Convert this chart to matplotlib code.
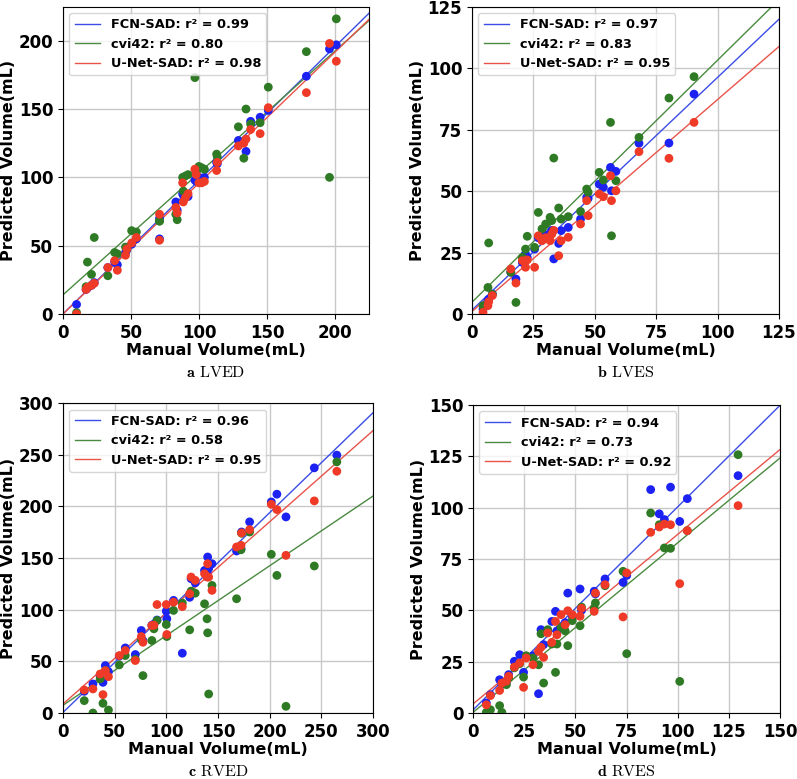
import matplotlib
matplotlib.use("Agg")
import matplotlib.pyplot as plt
import numpy as np

plt.rcParams['font.family'] = 'DejaVu Sans'
plt.rcParams['font.weight'] = 'bold'
plt.rcParams['mathtext.fontset'] = 'cm'

# ---- LVED ----
lved_x   = [10, 17, 18, 21, 23, 33, 38, 40, 46, 47, 50.5, 54, 71, 71, 83, 84, 88, 88.5, 90, 92,
            97, 98, 100, 102, 104, 113, 113.5, 129, 133, 134.6, 138, 145, 151, 179, 196, 201]
lved_fcn = [7, 18, 19, 21, 23, 34, 38, 36, 45, 47, 51, 55, 70, 55, 82, 76, 88, 87, 86, 86,
            98, 97, 100, 98, 100, 111, 110, 127, 126, 119, 141, 144, 149, 174, 194, 197]
lved_cvi = [1, 20, 38, 29, 56, 28, 45, 44, 49, 48, 61, 60, 68, 68, 73, 69, 100, 90, 101, 102,
            173, 104, 108, 107, 106, 117, 115, 137, 114, 150, 139, 140, 166, 192, 100, 216]
lved_unet = [0, 18, 19.5, 21, 22.5, 34, 39, 32, 43, 47.6, 52, 56, 73, 54, 78, 74, 96, 82, 85, 88,
             106, 102, 96, 96, 97, 105, 111, 123, 125, 128, 135, 132, 151, 162, 198, 185]

# ---- LVES ----
lves_x   = [4.5, 6.5, 6.8, 8.3, 15.8, 17.9, 20.5, 21.8, 22.5, 25.5, 27, 28.5, 30, 31.8, 32.5,
            33.3, 35.3, 36.3, 39.2, 44.2, 46.7, 47.3, 51.8, 53.5, 56.4, 56.8, 58.6, 68, 80.2, 90.4]
lves_fcn = [2, 5.4, 6, 8.1, 17, 14.2, 21, 24.4, 23, 26.4, 31, 30, 32, 33, 34,
            22.4, 28.7, 33.9, 35.2, 38.6, 47.4, 47, 52.8, 51.5, 59.6, 50.1, 58, 69.4, 69.5, 89.4]
lves_cvi = [3.4, 10.8, 28.9, 8, 17, 4.7, 23, 26.4, 31.6, 27.1, 41.3, 34.6, 36.6, 39.3, 38,
            63.4, 43.1, 38.6, 39.6, 41.7, 50.8, 49.5, 57.6, 54.5, 77.9, 31.8, 54.2, 71.8, 87.8, 96.5]
lves_unet = [0.7, 3.4, 5, 7.5, 18.3, 12.6, 21.7, 19, 22, 19, 31.8, 29.8, 31, 29.8, 32.5,
             34, 23.7, 29.8, 31.2, 36.6, 46.1, 40, 48.8, 47.7, 56.2, 46.1, 50.1, 66, 63.3, 77.9]

# ---- RVED ----
rved_x   = [20.6, 29, 36, 38.7, 41, 44, 54.5, 60.3, 70, 75.8, 77.4, 86, 88, 91, 100, 100.5,
            107, 115.5, 122.6, 124, 128, 137, 139.4, 140, 141, 144.2, 168, 172.3, 172.8,
            180.6, 201.6, 207, 215.8, 243.2, 265]
rved_fcn = [21, 28.1, 36, 29.7, 45.9, 40, 55, 63, 56.6, 79.9, 70, 85, 86, 90, 98.6, 91.2,
            109, 57.9, 112, 130, 126, 138, 136, 151, 140, 144.5, 156.8, 159, 175.2,
            185, 204.3, 211.8, 189.8, 237.3, 249.6]
rved_cvi = [12, 0, 33, 9.4, 41, 2.9, 46.6, 55.6, 52, 71, 36.2, 70.2, 81.5, 89.6, 85.7, 74,
            99.3, 106.4, 80.5, 118, 116, 105.7, 91.2, 77.6, 18.4, 123.5, 110.6, 158, 174,
            175.2, 153.6, 133.2, 6.5, 142.3, 243.1]
rved_unet = [22.3, 23.3, 37.8, 17.8, 41, 35.2, 55.6, 60.5, 50.8, 74, 68.5, 84.7, 85, 105, 105, 76,
             107.3, 103, 115.4, 131.6, 128.4, 134.8, 131.6, 144.5, 131.6, 118.7, 160.7, 162.3, 174.3,
             177.5, 202, 196.9, 152.6, 205.3, 234]

# ---- RVES ----
rves_x   = [6.5, 8.5, 13, 14.1, 16.3, 17.4, 20.2, 22.8, 24.7, 26, 29.3, 32, 33.2, 34.5, 36.5,
            38.5, 40.3, 41, 43, 45, 46.3, 48.5, 52.3, 53, 59.2, 59.8, 64.5, 73.3, 75.1,
            86.8, 91, 93.5, 96.5, 101, 104.7, 129.5]
rves_fcn = [4.9, 8.9, 16.2, 14, 15, 18.7, 25.2, 28.4, 19.8, 27, 27.9, 9.4, 40.6, 33.3, 40,
            44.6, 49.5, 40, 42, 44, 58.4, 47.1, 60.4, 50, 59.3, 58, 65.3, 63.6, 67,
            108.8, 97, 94.2, 110, 93.3, 104.4, 115.6]
rves_cvi = [0.3, 1.6, 3.6, 0.3, 13.8, 17, 22, 24, 17.5, 27.9, 26.8, 23.5, 38.6, 14.6, 40.6,
            33.6, 19.8, 33.6, 41.7, 40, 32.8, 45, 42.5, 51.6, 51.1, 53.6, 62, 69, 28.9,
            97.4, 91.7, 80.4, 80.2, 15.4, 88.8, 125.8]
rves_unet = [4, 8.5, 11, 14.6, 15.5, 17.9, 22.4, 24.4, 12.5, 26.8, 23.5, 30, 32, 27.1, 39,
             34.4, 44.6, 38.1, 47.9, 43, 49.8, 47.9, 47.1, 51, 49.5, 58.4, 62.5, 46.8, 68.2,
             88, 90.6, 92, 91.7, 63, 88.8, 101]

# regression lines: (slope, intercept) for FCN, cvi42, U-Net
lved_fit = [(0.978, 0.0), (0.892, 14.0), (0.958, 0.0)]
lves_fit = [(0.946, 1.6), (0.984, 4.8), (0.862, 1.0)]
rved_fit = [(0.967, 0.5), (0.675, 7.5), (0.882, 8.7)]
rves_fit = [(0.989, 1.5), (0.826, 0.3), (0.826, 4.4)]

lved_r2 = ["0.99", "0.80", "0.98"]
lves_r2 = ["0.97", "0.83", "0.95"]
rved_r2 = ["0.96", "0.58", "0.95"]
rves_r2 = ["0.94", "0.73", "0.92"]

names = ["FCN-SAD", "cvi42", "U-Net-SAD"]
dot_colors = ["#1c22f2", "#2f7a24", "#ee3a26"]
line_colors = ["#3b4de6", "#4a8a40", "#e8534a"]

panels = [
    (lved_x, [lved_fcn, lved_cvi, lved_unet], lved_fit, lved_r2, 225, [0, 50, 100, 150, 200], "a", "LVED",
     [0.0790, 0.5969, 0.3839, 0.3947]),
    (lves_x, [lves_fcn, lves_cvi, lves_unet], lves_fit, lves_r2, 125, [0, 25, 50, 75, 100, 125], "b", "LVES",
     [0.5922, 0.5969, 0.3852, 0.3947]),
    (rved_x, [rved_fcn, rved_cvi, rved_unet], rved_fit, rved_r2, 300, [0, 50, 100, 150, 200, 250, 300], "c", "RVED",
     [0.0790, 0.0847, 0.3890, 0.3979]),
    (rves_x, [rves_fcn, rves_cvi, rves_unet], rves_fit, rves_r2, 150, [0, 25, 50, 75, 100, 125, 150], "d", "RVES",
     [0.5935, 0.0847, 0.3852, 0.3954]),
]

fig = plt.figure(figsize=(7.97, 7.79), dpi=100)

for x, ys, fits, r2s, lim, ticks, letter, cap, pos in panels:
    ax = fig.add_axes(pos)
    xx = np.linspace(0, lim, 50)
    for i in range(3):
        a, b = fits[i]
        ax.plot(xx, a * xx + b, color=line_colors[i], lw=1.0,
                label="%s: r\u00b2 = %s" % (names[i], r2s[i]))
    for i in range(3):
        ax.scatter(x, ys[i], s=40, color=dot_colors[i], edgecolors='none', zorder=3)
    ax.set_xlim(0, lim)
    ax.set_ylim(0, lim)
    ax.set_xticks(ticks)
    ax.set_yticks(ticks)
    ax.grid(True, color="#c8c8c8", lw=1.0)
    ax.set_axisbelow(True)
    ax.tick_params(labelsize=12)
    for lab in ax.get_xticklabels() + ax.get_yticklabels():
        lab.set_fontweight('bold')
    ax.set_xlabel("Manual Volume(mL)", fontsize=11.5, fontweight='bold', labelpad=1)
    ax.set_ylabel("Predicted Volume(mL)", fontsize=11.5, fontweight='bold', labelpad=2)
    ax.legend(loc="upper left", prop={'size': 9.3, 'weight': 'bold'}, fancybox=True)
    cx = pos[0] + pos[2] / 2
    fig.text(cx, pos[1] - 0.075, r"$\mathbf{%s}$ %s" % (letter, cap), ha="center", va="center",
             fontsize=11.5, family="cmr10", fontweight="normal")

plt.savefig("out.png", dpi=100)
